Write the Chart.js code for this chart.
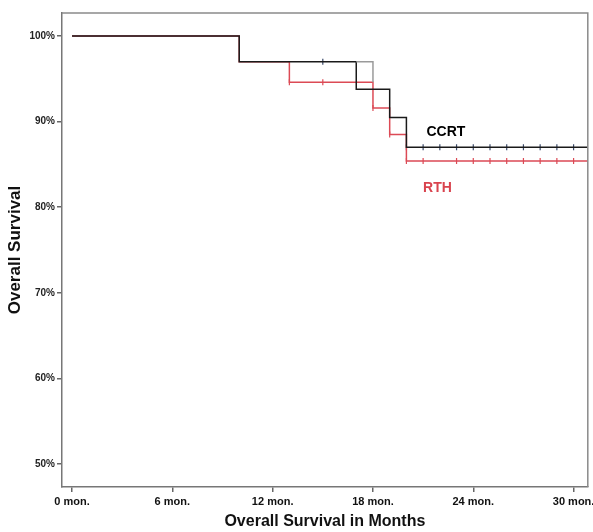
<!DOCTYPE html>
<html>
<head>
<meta charset="utf-8">
<style>
  html, body { margin: 0; padding: 0; background: #fff; }
  #wrap { width: 593px; height: 532px; }
</style>
<script src="https://cdn.jsdelivr.net/npm/chart.js@4.4.1/dist/chart.umd.min.js"></script>
</head>
<body>
<div id="wrap"><canvas id="kmChart"></canvas></div>
<script>
// Kaplan-Meier: times (months) at which the curve steps, and survival (%) after each step
const ccrtTimes = [0, 10, 17, 19, 20, 30.85];
const ccrtSurv = [100, 97.0, 93.8, 90.5, 87.0, 87.0];
const rthTimes = [0, 10, 13, 18, 19, 20, 30.85];
const rthSurv = [100, 97.0, 94.6, 91.6, 88.5, 85.4, 85.4];
// faint grey step seen between 17 and 18 months
const greyTimes = [17, 18];
const greySurv = [97.0, 94.6];

// censored cases
const ccrtCensorTimes = [15, 20, 21, 22, 23, 24, 25, 26, 27, 28, 29, 30];
const ccrtCensorSurv = [97.0, 87.0, 87.0, 87.0, 87.0, 87.0, 87.0, 87.0, 87.0, 87.0, 87.0, 87.0];
const rthCensorTimes = [13, 15, 18, 19, 20, 21, 23, 24, 25, 26, 27, 28, 29, 30];
const rthCensorSurv = [94.6, 94.6, 91.6, 88.5, 85.4, 85.4, 85.4, 85.4, 85.4, 85.4, 85.4, 85.4, 85.4, 85.4];

const xTicks = [0, 6, 12, 18, 24, 30];
const yTicks = [50, 60, 70, 80, 90, 100];

// group labels: [text, month, survival, colour]
const groupLabels = [
    ['CCRT', 21.2, 88.8, '#000000'],
    ['RTH', 21.0, 82.2, '#d9434e']
];

const BLACK = '#1a1a1a';
const RED = '#dc4a55';

function pts(xs, ys) {
    return xs.map(function (x, i) { return { x: x, y: ys[i] }; });
}

const frameAndLabels = {
    id: 'frameAndLabels',
    afterDatasetsDraw(chart) {
        const { ctx, chartArea, scales } = chart;
        ctx.save();
        ctx.strokeStyle = '#8a8a8a';
        ctx.lineWidth = 1.5;
        ctx.beginPath();
        ctx.moveTo(chartArea.left, chartArea.top);
        ctx.lineTo(chartArea.right, chartArea.top);
        ctx.lineTo(chartArea.right, chartArea.bottom);
        ctx.stroke();
        ctx.font = 'bold 14px "Liberation Sans", Arial, sans-serif';
        ctx.textAlign = 'left';
        ctx.textBaseline = 'middle';
        groupLabels.forEach(function (g) {
            ctx.fillStyle = g[3];
            ctx.fillText(g[0], scales.x.getPixelForValue(g[1]), scales.y.getPixelForValue(g[2]));
        });
        ctx.restore();
    }
};

new Chart(document.getElementById('kmChart').getContext('2d'), {
    type: 'scatter',
    data: {
        datasets: [
            {
                label: 'grey',
                data: pts(greyTimes, greySurv),
                showLine: true,
                stepped: 'before',
                borderColor: '#9a9a9a',
                borderWidth: 1.5,
                pointRadius: 0
            },
            {
                label: 'CCRT',
                data: pts(ccrtTimes, ccrtSurv),
                showLine: true,
                stepped: 'before',
                borderColor: BLACK,
                borderWidth: 1.5,
                pointRadius: 0
            },
            {
                label: 'RTH',
                data: pts(rthTimes, rthSurv),
                showLine: true,
                stepped: 'before',
                borderColor: RED,
                borderWidth: 1.5,
                pointRadius: 0
            },
            {
                label: 'CCRT censored',
                data: pts(ccrtCensorTimes, ccrtCensorSurv),
                pointStyle: 'line',
                rotation: 90,
                pointRadius: 3,
                borderColor: '#3a4a6a',
                borderWidth: 1.2
            },
            {
                label: 'RTH censored',
                data: pts(rthCensorTimes, rthCensorSurv),
                pointStyle: 'line',
                rotation: 90,
                pointRadius: 3,
                borderColor: RED,
                borderWidth: 1.2
            }
        ]
    },
    options: {
        responsive: true,
        maintainAspectRatio: false,
        animation: false,
        layout: { padding: { top: 13, right: 4, left: 0, bottom: 0 } },
        plugins: {
            legend: { display: false },
            tooltip: { enabled: false }
        },
        scales: {
            x: {
                type: 'linear',
                min: -0.6,
                max: 30.85,
                afterBuildTicks: function (axis) {
                    axis.ticks = xTicks.map(function (v) { return { value: v }; });
                },
                afterFit: function (axis) {
                    axis.height = 45;
                    axis.paddingLeft = 0;
                    axis.paddingRight = 0;
                },
                ticks: {
                    color: '#111',
                    font: { family: '"Liberation Sans", Arial, sans-serif', size: 11, weight: 'bold' },
                    padding: 3,
                    maxRotation: 0,
                    callback: function (v) { return v + ' mon.'; }
                },
                grid: { display: true, drawOnChartArea: false, drawTicks: true, tickLength: 5, color: '#666', lineWidth: 1.5 },
                border: { display: true, color: '#777', width: 1.5 },
                title: {
                    display: true,
                    text: 'Overall Survival in Months',
                    color: '#111',
                    font: { family: '"Liberation Sans", Arial, sans-serif', size: 16, weight: 'bold' },
                    padding: { top: 0, bottom: 1 }
                }
            },
            y: {
                type: 'linear',
                min: 47.3,
                max: 102.7,
                afterBuildTicks: function (axis) {
                    axis.ticks = yTicks.map(function (v) { return { value: v }; });
                },
                afterFit: function (axis) {
                    axis.width = 62;
                    axis.paddingTop = 0;
                    axis.paddingBottom = 0;
                },
                ticks: {
                    color: '#222',
                    font: { family: '"Liberation Sans", Arial, sans-serif', size: 10, weight: 'bold' },
                    padding: 2,
                    callback: function (v) { return v + '%'; }
                },
                grid: { display: true, drawOnChartArea: false, drawTicks: true, tickLength: 5, color: '#666', lineWidth: 1.5 },
                border: { display: true, color: '#777', width: 1.5 },
                title: {
                    display: true,
                    text: 'Overall Survival',
                    color: '#111',
                    font: { family: '"Liberation Sans", Arial, sans-serif', size: 17, weight: 'bold' },
                    padding: { top: 5, bottom: 0 }
                }
            }
        }
    },
    plugins: [frameAndLabels]
});
</script>
</body>
</html>
